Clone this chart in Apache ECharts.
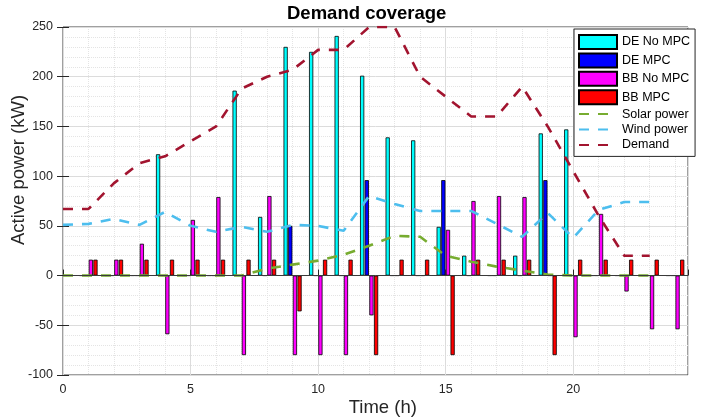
<!DOCTYPE html>
<html>
<head>
<meta charset="utf-8">
<title>Demand coverage</title>
<script src="https://cdn.jsdelivr.net/npm/echarts@6/dist/echarts.min.js"></script>
<style>
  html, body { margin: 0; padding: 0; background: #fff; }
  #chart { width: 708px; height: 420px; }
</style>
</head>
<body>
<div id="chart"></div>
<script>
// hours of the bar groups and of the curves
const hours = [1, 2, 3, 4, 5, 6, 7, 8, 9, 10, 11, 12, 13, 14, 15, 16, 17, 18, 19, 20, 21, 22, 23, 24]
const lineHours = [0, 1, 2, 3, 4, 5, 6, 7, 8, 9, 10, 11, 12, 13, 14, 15, 16, 17, 18, 19, 20, 21, 22, 23]

// bars (kW)
const deNoMpc = [0, 0, 0, 122, 0, 0, 186, 59, 230, 225, 241, 201, 139, 136, 49, 20, 0, 20, 143, 147, 0, 0, 0, 0]
const deMpc = [0, 0, 0, 0, 0, 0, 0, 0, 50, 0, 0, 96, 0, 0, 96, 0, 0, 0, 96, 0, 0, 0, 0, 0]
const bbNoMpc = [16, 16, 32, -59, 56, 79, -80, 80, -80, -80, -80, -40, 0, 0, 46, 75, 80, 79, 0, -62, 62, -16, -54, -54]
const bbMpc = [16, 16, 16, 16, 16, 16, 16, 16, -36, 16, 16, -80, 16, 16, -80, 16, 16, 16, -80, 16, 16, 16, 16, 16]

// curves (kW)
const solar = [0, 0, 0, 0, 0, 0, 0, 0, 7, 11, 15, 21, 30, 40, 39, 20, 14, 9, 5, 1, 0, 0, 0, 0]
const wind = [51, 52, 57, 51, 64, 50, 44, 49, 44, 51, 50, 45, 80, 72, 65, 65, 65, 52, 39, 63, 38, 66, 74, 74]
const demand = [67, 67, 93, 113, 120, 135, 150, 188, 200, 207, 227, 227, 250, 250, 200, 180, 160, 160, 190, 150, 105, 60, 20, 20]

const myChart = echarts.init(document.getElementById('chart'))

// matlab style grouped bars: 4 bars per group
const groupWidth = Math.min(0.8, 4 / 5.5)
const offsets = [-1.5, -0.5, 0.5, 1.5].map(k => k * groupWidth / 4)
const txt = '#262626'
const font = "'Liberation Sans', Arial, Helvetica, sans-serif"

function barSeries(name, values, k, color) {
  return {
    name: name,
    type: 'bar',
    barWidth: 4.2,
    barGap: '-100%',
    itemStyle: { color: color, borderColor: '#000', borderWidth: 0.8 },
    data: hours.map((h, i) => [h + offsets[k], values[i]])
  }
}

function lineSeries(name, values, color) {
  return {
    name: name,
    type: 'line',
    symbol: 'none',
    // transparent so the legend shows only the dashed line
    itemStyle: { color: 'rgba(0,0,0,0)' },
    lineStyle: { color: color, width: 2.6, type: [10, 9] },
    data: lineHours.map((h, i) => [h, values[i]])
  }
}

const baseBar = barSeries('BB MPC', bbMpc, 3, '#ff0000')
// bar baseline
baseBar.markLine = {
  silent: true,
  symbol: 'none',
  label: { show: false },
  lineStyle: { color: '#3a3a3a', width: 1, type: 'solid' },
  data: [{ yAxis: 0 }]
}

myChart.setOption({
  animation: false,
  backgroundColor: '#fff',
  textStyle: { fontFamily: font },
  grid: {
    left: 63, top: 27, width: 625, height: 348,
    show: true, borderColor: '#404040', borderWidth: 1, backgroundColor: '#fff'
  },
  legend: {
    orient: 'vertical',
    left: 574,
    top: 29,
    padding: [5, 5, 5, 4],
    itemWidth: 38,
    itemHeight: 14,
    itemGap: 2.4,
    backgroundColor: '#fff',
    borderColor: '#262626',
    borderWidth: 1,
    textStyle: { fontSize: 12.5, color: '#000', fontFamily: font },
    data: [
      { name: 'DE No MPC', icon: 'rect' },
      { name: 'DE MPC', icon: 'rect' },
      { name: 'BB No MPC', icon: 'rect' },
      { name: 'BB MPC', icon: 'rect' },
      'Solar power', 'Wind power', 'Demand'
    ]
  },
  graphic: [
    {
      type: 'text', x: 366.7, y: 14.2,
      style: { text: 'Demand coverage', font: 'bold 18.5px ' + font, fill: '#000', align: 'center', verticalAlign: 'middle' }
    },
    {
      type: 'text', x: 382.8, y: 407.5,
      style: { text: 'Time (h)', font: '18.5px ' + font, fill: txt, align: 'center', verticalAlign: 'middle' }
    },
    {
      type: 'text', x: 18.5, y: 170, rotation: Math.PI / 2,
      style: { text: 'Active power (kW)', font: '18.5px ' + font, fill: txt, align: 'center', verticalAlign: 'middle' }
    }
  ],
  xAxis: [
    {
      type: 'value', min: 0, max: 24.5, interval: 5, position: 'bottom', z: 2,
      axisLine: { show: false },
      axisTick: { inside: true, length: 6, lineStyle: { color: txt } },
      axisLabel: { color: txt, fontSize: 12.5, margin: 8, formatter: v => (v > 24 ? '' : v) },
      splitLine: { lineStyle: { color: '#dcdcdc', width: 1 } }
    },
    {
      // minor grid every hour
      type: 'value', min: 0, max: 24.5, interval: 1, position: 'bottom', z: 1,
      axisLine: { show: false }, axisTick: { show: false }, axisLabel: { show: false },
      splitLine: { lineStyle: { color: '#e4e4e4', type: 'dotted', width: 1 } }
    },
    {
      type: 'value', min: 0, max: 24.5, interval: 5, position: 'top',
      axisLine: { show: false }, axisLabel: { show: false }, splitLine: { show: false },
      axisTick: { inside: true, length: 6, lineStyle: { color: txt } }
    }
  ],
  yAxis: [
    {
      type: 'value', min: -100, max: 250, interval: 50, z: 2,
      axisLine: { show: false },
      axisTick: { inside: true, length: 6, lineStyle: { color: txt } },
      axisLabel: { color: txt, fontSize: 12.5, margin: 10 },
      splitLine: { lineStyle: { color: '#dcdcdc', width: 1 } },
      minorTick: { show: false, splitNumber: 5 },
      minorSplitLine: { show: true, lineStyle: { color: '#e4e4e4', type: 'dotted', width: 1 } }
    },
    {
      type: 'value', min: -100, max: 250, interval: 50, position: 'right',
      axisLine: { show: false }, axisLabel: { show: false }, splitLine: { show: false },
      axisTick: { inside: true, length: 6, lineStyle: { color: txt } }
    }
  ],
  series: [
    barSeries('DE No MPC', deNoMpc, 0, '#00ffff'),
    barSeries('DE MPC', deMpc, 1, '#0000ff'),
    barSeries('BB No MPC', bbNoMpc, 2, '#ff00ff'),
    baseBar,
    lineSeries('Solar power', solar, '#77ac30'),
    lineSeries('Wind power', wind, '#4dbeee'),
    lineSeries('Demand', demand, '#a2142f')
  ]
})
</script>
</body>
</html>
